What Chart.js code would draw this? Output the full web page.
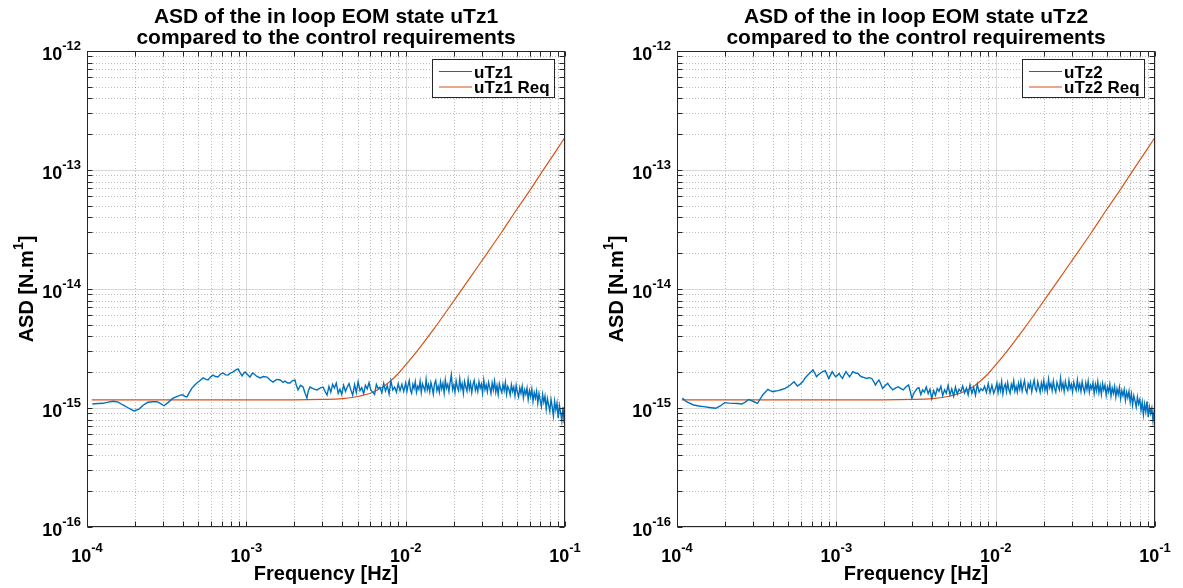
<!DOCTYPE html>
<html>
<head>
<meta charset="utf-8">
<script src="https://cdn.jsdelivr.net/npm/chart.js@4.4.0/dist/chart.umd.min.js"></script>
<style>
html, body { margin: 0; padding: 0; background: #fff; }
#wrap { position: relative; width: 1183px; height: 588px; }
.box { position: absolute; top: 0; height: 588px; }
</style>
</head>
<body>
<div id="wrap">
  <div class="box" style="left:0;width:590px"><canvas id="c1"></canvas></div>
  <div class="box" style="left:590px;width:593px"><canvas id="c2"></canvas></div>
</div>
<script>
"use strict"

// frequencies are in mHz, ASD values in 1e-15 N.m
const F_UNIT = 1e-3
const A_UNIT = 1e-15

// low frequency part, left plot (uTz1)
const freqLow1 = [0.108, 0.117, 0.126, 0.136, 0.146, 0.157, 0.168, 0.182, 0.197, 0.212,
    0.226, 0.241, 0.258, 0.275, 0.29, 0.304, 0.325, 0.347, 0.372, 0.39,
    0.401, 0.412, 0.424, 0.44, 0.456, 0.473, 0.49, 0.512, 0.535, 0.555,
    0.575, 0.596, 0.618, 0.64, 0.664, 0.69, 0.714, 0.74, 0.767, 0.795,
    0.826, 0.856, 0.887, 0.913, 0.94, 0.96, 0.982, 1.02, 1.055, 1.08,
    1.1, 1.16, 1.22, 1.28, 1.35, 1.41, 1.47, 1.55, 1.63, 1.7,
    1.75, 1.82, 1.88, 1.95, 2.02, 2.06, 2.11, 2.19, 2.27, 2.33,
    2.4, 2.45, 2.51, 2.64, 2.78, 2.9, 3.03, 3.12, 3.21]
const asdLow1 = [1.08, 1.09, 1.095, 1.12, 1.14, 1.12, 1.06, 1.0, 0.944, 0.98,
    1.06, 1.117, 1.13, 1.13, 1.09, 1.045, 1.12, 1.21, 1.26, 1.29,
    1.285, 1.25, 1.24, 1.36, 1.47, 1.55, 1.62, 1.7, 1.79, 1.75,
    1.72, 1.82, 1.89, 1.84, 1.82, 1.93, 1.97, 1.9, 1.89, 1.96,
    2.01, 2.08, 2.13, 1.98, 1.86, 1.95, 2.01, 1.9, 1.82, 1.92,
    1.97, 1.85, 1.79, 1.84, 1.82, 1.72, 1.65, 1.74, 1.72, 1.64,
    1.68, 1.62, 1.62, 1.7, 1.72, 1.55, 1.42, 1.55, 1.5, 1.35,
    1.21, 1.4, 1.5, 1.45, 1.42, 1.47, 1.5, 1.38, 1.285]

// low frequency part, right plot (uTz2)
const freqLow2 = [0.108, 0.1145, 0.127, 0.137, 0.147, 0.16, 0.175, 0.187, 0.199, 0.212,
    0.225, 0.24, 0.255, 0.268, 0.282, 0.297, 0.32, 0.345, 0.372, 0.385,
    0.401, 0.415, 0.432, 0.455, 0.478, 0.515, 0.542, 0.57, 0.59, 0.615,
    0.635, 0.662, 0.69, 0.714, 0.73, 0.751, 0.77, 0.79, 0.82, 0.852,
    0.875, 0.896, 0.92, 0.942, 0.965, 0.99, 1.015, 1.04, 1.065, 1.094,
    1.12, 1.15, 1.18, 1.21, 1.24, 1.27, 1.32, 1.37, 1.4, 1.44,
    1.5, 1.55, 1.61, 1.67, 1.72, 1.76, 1.8, 1.85, 1.9, 1.95,
    2.02, 2.1, 2.18, 2.26, 2.35, 2.44, 2.53, 2.63, 2.73, 2.84,
    2.91, 2.98, 3.08, 3.22]
const asdLow2 = [1.21, 1.13, 1.06, 1.04, 1.026, 1.01, 0.994, 1.04, 1.11, 1.1,
    1.094, 1.09, 1.08, 1.12, 1.18, 1.145, 1.094, 1.286, 1.435, 1.4,
    1.37, 1.39, 1.4, 1.43, 1.46, 1.56, 1.66, 1.53, 1.58, 1.66,
    1.78, 1.89, 2.0, 2.09, 1.98, 1.83, 1.9, 1.95, 2.02, 2.06,
    1.9, 1.77, 1.9, 2.02, 1.92, 1.83, 1.88, 1.95, 1.85, 1.77,
    1.9, 2.02, 1.92, 1.83, 1.92, 2.02, 1.97, 1.95, 1.88, 1.83,
    1.8, 1.77, 1.8, 1.77, 1.66, 1.56, 1.64, 1.72, 1.6, 1.46,
    1.54, 1.61, 1.5, 1.42, 1.47, 1.51, 1.46, 1.42, 1.5, 1.56,
    1.38, 1.206, 1.35, 1.46]

// noisy band above ~3 mHz, same frequency bins for both states
const freqBand = [3.3, 3.39, 3.48, 3.57, 3.67, 3.77, 3.87, 3.97, 4.08, 4.19,
    4.3, 4.41, 4.53, 4.65, 4.78, 4.9, 5.03, 5.17, 5.3, 5.45,
    5.59, 5.74, 5.89, 6.05, 6.21, 6.38, 6.55, 6.72, 6.9, 7.09,
    7.28, 7.47, 7.67, 7.87, 8.08, 8.3, 8.52, 8.75, 8.98, 9.22,
    9.47, 9.72,
    10, 10.18, 10.35, 10.53, 10.72, 10.9, 11.1, 11.29, 11.49, 11.69,
    11.9, 12.1, 12.32, 12.53, 12.75, 12.98, 13.2, 13.44, 13.67, 13.91,
    14.16, 14.4, 14.66, 14.91, 15.17, 15.44, 15.71, 15.99, 16.27, 16.55,
    16.84, 17.14, 17.44, 17.74, 18.05, 18.37, 18.69, 19.02, 19.35, 19.69,
    20.04, 20.39, 20.74, 21.1, 21.47, 21.85, 22.23, 22.62, 23.02, 23.42,
    23.83, 24.25, 24.67, 25.1, 25.54, 25.99, 26.45, 26.91, 27.38, 27.86,
    28.35, 28.84, 29.35, 29.86, 30.38, 30.92, 31.46, 32.0, 32.56, 33.13,
    33.71, 34.3, 34.9, 35.51, 36.14, 36.77, 37.41, 38.07, 38.73, 39.41,
    40.1, 40.8, 41.52, 42.25, 42.99, 43.74, 44.5, 45.28, 46.08, 46.88,
    47.7, 48.54, 49.39, 50.26, 51.14, 52.03, 52.94, 53.87, 54.81, 55.77,
    56.75, 57.74, 58.75, 59.78, 60.83, 61.9, 62.98, 64.08, 65.2, 66.35,
    67.51, 68.69, 69.89, 71.11, 72.36, 73.62, 74.91, 76.22, 77.56, 78.91,
    80.3, 81.7, 83.13, 84.58, 86.06, 87.57, 89.1, 90.66, 92.25, 93.86,
    95.5, 97.17, 98.87, 100]
const asdBand1 = [1.52, 1.36, 1.58, 1.47, 1.62, 1.33, 1.44, 1.30, 1.55, 1.38,
    1.50, 1.60, 1.42, 1.28, 1.57, 1.35, 1.66, 1.40, 1.48, 1.32,
    1.55, 1.45, 1.63, 1.41, 1.36, 1.30, 1.58, 1.46, 1.49, 1.34,
    1.61, 1.39, 1.54, 1.31, 1.69, 1.42, 1.50, 1.36, 1.60, 1.40,
    1.58, 1.38,
    1.62, 1.38, 1.55, 1.70, 1.41, 1.33, 1.58, 1.46, 1.66, 1.36,
    1.52, 1.44, 1.68, 1.35, 1.60, 1.49, 1.39, 1.74, 1.42, 1.57,
    1.37, 1.64, 1.48, 1.31, 1.59, 1.70, 1.40, 1.53, 1.36, 1.66,
    1.45, 1.61, 1.34, 1.72, 1.47, 1.58, 1.38, 1.65, 1.90, 1.43,
    1.56, 1.36, 1.69, 1.49, 1.40, 1.76, 1.45, 1.60, 1.33, 1.67,
    1.51, 1.39, 1.73, 1.44, 1.62, 1.35, 1.57, 1.70, 1.41, 1.55,
    1.38, 1.66, 1.47, 1.59, 1.34, 1.71, 1.43, 1.56, 1.37, 1.64,
    1.49, 1.33, 1.62, 1.42, 1.68, 1.36, 1.54, 1.30, 1.60, 1.45,
    1.35, 1.58, 1.40, 1.64, 1.31, 1.52, 1.43, 1.29, 1.57, 1.38,
    1.50, 1.27, 1.55, 1.36, 1.24, 1.48, 1.33, 1.52, 1.22, 1.42,
    1.30, 1.47, 1.18, 1.40, 1.25, 1.44, 1.14, 1.35, 1.21, 1.38,
    1.10, 1.32, 1.16, 1.03, 1.30, 1.12, 1.26, 0.98, 1.20, 1.06,
    0.94, 1.18, 1.02, 0.86, 1.14, 0.97, 1.10, 0.82, 1.05, 0.92,
    0.78, 1.02, 0.74, 0.90]
const asdBand2 = [1.48, 1.30, 1.42, 1.36, 1.50, 1.32, 1.44, 1.20, 1.40, 1.28,
    1.46, 1.38, 1.52, 1.27, 1.42, 1.33, 1.55, 1.29, 1.45, 1.26,
    1.50, 1.31, 1.44, 1.37, 1.53, 1.34, 1.47, 1.29, 1.56, 1.33,
    1.49, 1.28, 1.58, 1.36, 1.45, 1.40, 1.52, 1.35, 1.60, 1.34,
    1.55, 1.33,
    1.47, 1.62, 1.35, 1.56, 1.40, 1.66, 1.32, 1.50, 1.59, 1.37,
    1.63, 1.43, 1.33, 1.58, 1.46, 1.69, 1.38, 1.52, 1.36, 1.61,
    1.44, 1.67, 1.39, 1.55, 1.70, 1.42, 1.34, 1.60, 1.48, 1.64,
    1.37, 1.56, 1.72, 1.45, 1.39, 1.66, 1.50, 1.36, 1.62, 1.44,
    1.70, 1.41, 1.57, 1.38, 1.75, 1.48, 1.60, 1.40, 1.68, 1.46,
    1.36, 1.64, 1.52, 1.42, 1.78, 1.45, 1.61, 1.38, 1.67, 1.49,
    1.41, 1.70, 1.46, 1.58, 1.37, 1.65, 1.50, 1.40, 1.72, 1.44,
    1.59, 1.38, 1.66, 1.47, 1.35, 1.62, 1.43, 1.68, 1.36, 1.55,
    1.45, 1.63, 1.33, 1.58, 1.40, 1.66, 1.35, 1.54, 1.30, 1.60,
    1.42, 1.56, 1.28, 1.50, 1.37, 1.58, 1.26, 1.47, 1.33, 1.52,
    1.24, 1.45, 1.30, 1.49, 1.20, 1.40, 1.27, 1.43, 1.16, 1.36,
    1.22, 1.38, 1.12, 1.31, 1.06, 1.27, 1.15, 1.02, 1.24, 1.08,
    1.18, 0.96, 1.12, 0.88, 1.08, 0.93, 1.14, 0.84, 1.02, 0.90,
    1.00, 0.78, 0.96, 0.86]

// control requirement (same for both states)
const reqFreq = [0.107, 1, 2, 3, 4, 5, 6, 7, 8, 9, 10, 12, 15, 20, 25, 30, 40, 50, 60, 70, 80, 90, 100]
const reqAsd = [1.17, 1.17, 1.17, 1.18, 1.2, 1.25, 1.33, 1.47, 1.68, 1.95, 2.3, 3.1, 4.6, 7.9, 12.1, 17.2, 30, 47, 67, 92, 120, 152, 188]

// axes
const xDecades = [1e-4, 1e-3, 1e-2, 1e-1]
const xTickExp = ['-4', '-3', '-2', '-1']
const yDecades = [1e-16, 1e-15, 1e-14, 1e-13, 1e-12]
const yTickExp = ['-16', '-15', '-14', '-13', '-12']

const FONT = '"Liberation Sans", Arial, Helvetica, sans-serif'
const INK = '#262626'
const BLUE = '#0072BD'
const ORANGE = '#D95319'

function toPoints(fs, vs) {
    return fs.map((f, i) => ({x: f * F_UNIT, y: vs[i] * A_UNIT}))
}

function minorValues(decades) {
    let out = []
    for (let d = 0; d < decades.length - 1; d++) {
        for (let k = 2; k <= 9; k++) out.push(decades[d] * k)
    }
    return out
}

// draws "10" with a raised exponent; x is the anchor according to align
function powerLabel(ctx, exp, x, y, align) {
    ctx.font = 'bold 18px ' + FONT
    const wb = ctx.measureText('10').width
    ctx.font = 'bold 13px ' + FONT
    const we = ctx.measureText(exp).width
    let x0 = x
    if (align === 'center') x0 = x - (wb + we) / 2
    if (align === 'right') x0 = x - (wb + we)
    ctx.textAlign = 'left'
    ctx.textBaseline = 'alphabetic'
    ctx.font = 'bold 18px ' + FONT
    ctx.fillText('10', x0, y)
    ctx.font = 'bold 13px ' + FONT
    ctx.fillText(exp, x0 + wb, y - 10)
}

const matlabAxes = {
    id: 'matlabAxes',
    beforeDatasetsDraw(chart) {
        const {ctx, chartArea: a, scales: {x, y}} = chart
        ctx.save()
        ctx.lineWidth = 1
        // minor grid, dotted
        ctx.setLineDash([1, 2])
        ctx.strokeStyle = 'rgba(38,38,38,0.3)'
        for (const v of minorValues(xDecades)) {
            const px = Math.round(x.getPixelForValue(v)) + 0.5
            ctx.beginPath(); ctx.moveTo(px, a.top); ctx.lineTo(px, a.bottom); ctx.stroke()
        }
        for (const v of minorValues(yDecades)) {
            const py = Math.round(y.getPixelForValue(v)) + 0.5
            ctx.beginPath(); ctx.moveTo(a.left, py); ctx.lineTo(a.right, py); ctx.stroke()
        }
        // major grid, solid and faint
        ctx.setLineDash([])
        ctx.strokeStyle = 'rgba(38,38,38,0.17)'
        for (const v of xDecades) {
            const px = Math.round(x.getPixelForValue(v)) + 0.5
            ctx.beginPath(); ctx.moveTo(px, a.top); ctx.lineTo(px, a.bottom); ctx.stroke()
        }
        for (const v of yDecades) {
            const py = Math.round(y.getPixelForValue(v)) + 0.5
            ctx.beginPath(); ctx.moveTo(a.left, py); ctx.lineTo(a.right, py); ctx.stroke()
        }
        ctx.restore()
    },
    afterDatasetsDraw(chart) {
        const {ctx, chartArea: a, scales: {x, y}} = chart
        ctx.save()
        ctx.strokeStyle = INK
        ctx.lineWidth = 1
        const L = Math.round(a.left) + 0.5, R = Math.round(a.right) - 0.5
        const T = Math.round(a.top) + 0.5, B = Math.round(a.bottom) - 0.5
        ctx.strokeRect(L, T, R - L, B - T)
        // inward ticks on all four sides
        ctx.beginPath()
        for (const v of xDecades.concat(minorValues(xDecades))) {
            const px = Math.round(x.getPixelForValue(v)) + 0.5
            ctx.moveTo(px, B); ctx.lineTo(px, B - 5)
            ctx.moveTo(px, T); ctx.lineTo(px, T + 5)
        }
        for (const v of yDecades.concat(minorValues(yDecades))) {
            const py = Math.round(y.getPixelForValue(v)) + 0.5
            ctx.moveTo(L, py); ctx.lineTo(L + 5, py)
            ctx.moveTo(R, py); ctx.lineTo(R - 5, py)
        }
        ctx.stroke()
        ctx.restore()
    },
    afterDraw(chart) {
        const {ctx, chartArea: a, scales: {x, y}} = chart
        const o = chart.options.plugins.matlabAxes
        ctx.save()
        ctx.fillStyle = '#000'

        // tick labels
        xDecades.forEach((v, i) => powerLabel(ctx, xTickExp[i], x.getPixelForValue(v), a.bottom + 35, 'center'))
        yDecades.forEach((v, i) => powerLabel(ctx, yTickExp[i], a.left - 6, y.getPixelForValue(v) + 9, 'right'))

        // x label
        ctx.font = 'bold 20px ' + FONT
        ctx.textAlign = 'center'
        ctx.fillText('Frequency [Hz]', (a.left + a.right) / 2, a.bottom + 53)

        // y label with superscript
        ctx.save()
        ctx.translate(a.left - 54, (a.top + a.bottom) / 2)
        ctx.rotate(-Math.PI / 2)
        ctx.textAlign = 'left'
        ctx.font = 'bold 20px ' + FONT
        const w1 = ctx.measureText('ASD [N.m').width
        const w3 = ctx.measureText(']').width
        ctx.font = 'bold 14px ' + FONT
        const w2 = ctx.measureText('1').width
        let sx = -(w1 + w2 + w3) / 2
        ctx.font = 'bold 20px ' + FONT
        ctx.fillText('ASD [N.m', sx, 0)
        ctx.font = 'bold 14px ' + FONT
        ctx.fillText('1', sx + w1, -10)
        ctx.font = 'bold 20px ' + FONT
        ctx.fillText(']', sx + w1 + w2, 0)
        ctx.restore()

        // title
        ctx.font = 'bold 21px ' + FONT
        ctx.textAlign = 'center'
        const cx = (a.left + a.right) / 2
        ctx.fillText(o.title[0], cx, 23)
        ctx.fillText(o.title[1], cx, 44)

        // legend box
        const lx = Math.round(a.right) - 133, ly = Math.round(a.top) + 8
        ctx.fillStyle = '#fff'
        ctx.fillRect(lx, ly, 122, 38)
        ctx.strokeStyle = INK
        ctx.lineWidth = 1
        ctx.strokeRect(lx + 0.5, ly + 0.5, 122, 38)
        o.legend.forEach((lab, i) => {
            const ry = ly + 12.5 + i * 15.5
            ctx.strokeStyle = chart.data.datasets[i].borderColor
            ctx.lineWidth = 1.2
            ctx.beginPath(); ctx.moveTo(lx + 7, ry); ctx.lineTo(lx + 40, ry); ctx.stroke()
            ctx.fillStyle = '#000'
            ctx.font = 'bold 17px ' + FONT
            ctx.textAlign = 'left'
            ctx.fillText(lab, lx + 42, ry + 6)
        })
        ctx.restore()
    }
}

function drawAsd(canvasId, asdPoints, name) {
    return new Chart(document.getElementById(canvasId), {
        type: 'line',
        data: {
            datasets: [
                {
                    label: name,
                    data: asdPoints,
                    borderColor: BLUE,
                    borderWidth: 1.4,
                    pointRadius: 0,
                    tension: 0,
                },
                {
                    label: name + ' Req',
                    data: toPoints(reqFreq, reqAsd),
                    borderColor: ORANGE,
                    borderWidth: 1.2,
                    pointRadius: 0,
                    cubicInterpolationMode: 'monotone',
                },
            ]
        },
        options: {
            responsive: true,
            maintainAspectRatio: false,
            animation: false,
            layout: {padding: {left: 87, right: canvasId === 'c1' ? 25 : 28, top: 51, bottom: 61}},
            scales: {
                x: {
                    type: 'logarithmic', min: 1e-4, max: 1e-1,
                    grid: {display: false, drawTicks: false},
                    border: {display: false},
                    ticks: {display: false},
                },
                y: {
                    type: 'logarithmic', min: 1e-16, max: 1e-12,
                    grid: {display: false, drawTicks: false},
                    border: {display: false},
                    ticks: {display: false},
                }
            },
            plugins: {
                legend: {display: false},
                tooltip: {enabled: false},
                matlabAxes: {
                    title: ['ASD of the in loop EOM state ' + name, 'compared to the control requirements'],
                    legend: [name, name + ' Req'],
                }
            }
        },
        plugins: [matlabAxes]
    })
}

let chart1 = drawAsd('c1', toPoints(freqLow1, asdLow1).concat(toPoints(freqBand, asdBand1)), 'uTz1')
let chart2 = drawAsd('c2', toPoints(freqLow2, asdLow2).concat(toPoints(freqBand, asdBand2)), 'uTz2')
</script>
</body>
</html>
